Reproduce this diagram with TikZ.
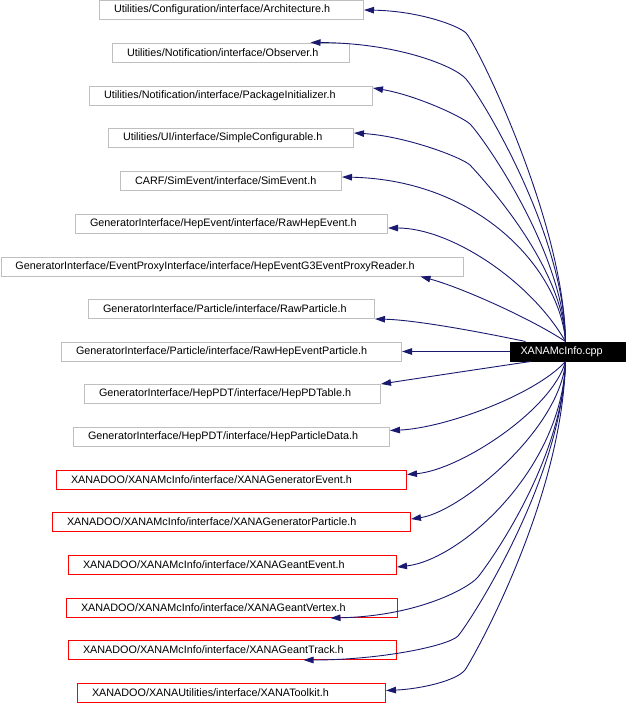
\documentclass[tikz,border=0pt]{standalone}
\usepackage{fontspec}
\setmainfont{Liberation Sans}
\usetikzlibrary{arrows.meta}
\definecolor{inclblue}{RGB}{25, 25, 112}
\definecolor{hdrgrey}{RGB}{191, 191, 191}
\definecolor{hdrred}{RGB}{255, 0, 0}

\begin{document}
\begin{tikzpicture}[x=1pt, y=-1pt,
  hdr/.style={draw=hdrgrey, line width=1pt, anchor=west, minimum height=19pt, inner xsep=14.5pt, inner ysep=0pt, align=left, font=\fontsize{10.8}{13}\selectfont},
  xanahdr/.style={hdr, draw=hdrred},
  srcbox/.style={hdr, draw=black, fill=black, text=white, inner xsep=10pt},
  incl/.style={inclblue, line width=0.9pt, -{Triangle[length=10pt, width=6.5pt]}}]
  \useasboundingbox (0,0) rectangle (626,704);

  % Included headers
  \node[hdr, text width=235pt] (arch) at (99,10) {Utilities/Configuration/interface/Architecture.h};
  \node[hdr, text width=208pt] (observer) at (112,52.5) {Utilities/Notification/interface/Observer.h};
  \node[hdr, text width=254pt] (pkginit) at (89,95.5) {Utilities/Notification/interface/PackageInitializer.h};
  \node[hdr, text width=216pt] (simplecfg) at (108,138) {Utilities/UI/interface/SimpleConfigurable.h};
  \node[hdr, text width=192pt] (simevent) at (120,181) {CARF/SimEvent/interface/SimEvent.h};
  \node[hdr, text width=283pt] (rawhepevent) at (75,224) {GeneratorInterface/HepEvent/interface/RawHepEvent.h};
  \node[hdr, text width=433pt] (proxyreader) at (0.5,266.5) {GeneratorInterface/EventProxyInterface/interface/HepEventG3EventProxyReader.h};
  \node[hdr, text width=257pt] (rawparticle) at (88,309) {GeneratorInterface/Particle/interface/RawParticle.h};
  \node[hdr, text width=311pt] (rawhepparticle) at (61,351.5) {GeneratorInterface/Particle/interface/RawHepEventParticle.h};
  \node[hdr, text width=267pt] (heppdtable) at (84,394) {GeneratorInterface/HepPDT/interface/HepPDTable.h};
  \node[hdr, text width=287pt] (hepparticledata) at (73,436.5) {GeneratorInterface/HepPDT/interface/HepParticleData.h};
  \node[xanahdr, text width=321pt] (xgenevent) at (56,479.5) {XANADOO/XANAMcInfo/interface/XANAGeneratorEvent.h};
  \node[xanahdr, text width=329pt] (xgenparticle) at (52,522) {XANADOO/XANAMcInfo/interface/XANAGeneratorParticle.h};
  \node[xanahdr, text width=299pt] (xgeantevent) at (68,565) {XANADOO/XANAMcInfo/interface/XANAGeantEvent.h};
  \node[xanahdr, text width=302pt] (xgeantvertex) at (66,608) {XANADOO/XANAMcInfo/interface/XANAGeantVertex.h};
  \node[xanahdr, text width=299pt] (xgeanttrack) at (68,650) {XANADOO/XANAMcInfo/interface/XANAGeantTrack.h};
  \node[xanahdr, text width=279pt] (xtoolkit) at (77,692.5) {XANADOO/XANAUtilities/interface/XANAToolkit.h};

  % Source file
  \node[srcbox, text width=95pt] (mcinfo) at (510,351.5) {XANAMcInfo.cpp};

  % Include edges
  \draw[incl] ([xshift=-2.5pt]mcinfo.north) .. controls (564,220) and (476,43) .. (466,33) .. controls (459,26) and (420,11) .. (arch.east);
  \draw[incl] ([xshift=-2.5pt]mcinfo.north) .. controls (564,230) and (479,94) .. (466,79) .. controls (456,67) and (400,43) .. ([xshift=79.5pt]observer.north);
  \draw[incl] ([xshift=-2.5pt]mcinfo.north) .. controls (563,250) and (482,136) .. (470,124) .. controls (461,116) and (415,95) .. ([yshift=7.5pt]pkginit.east);
  \draw[incl] ([xshift=-2.5pt]mcinfo.north) .. controls (563,265) and (482,178) .. (470,165) .. controls (461,157) and (405,136) .. ([yshift=5pt]simplecfg.east);
  \draw[incl] ([xshift=-2.5pt]mcinfo.north) .. controls (560,270) and (480,180) .. ([yshift=4pt]simevent.east);
  \draw[incl] ([xshift=-2.5pt]mcinfo.north) .. controls (530,280) and (450,228) .. ([yshift=-4pt]rawhepevent.east);
  \draw[incl] ([xshift=-2.5pt]mcinfo.north) .. controls (530,318) and (460,287) .. ([xshift=188.5pt]proxyreader.south);
  \draw[incl] ([xshift=-42.5pt]mcinfo.north) .. controls (500,336) and (420,320) .. (rawparticle.south east);
  \draw[incl] (mcinfo.west) -- (rawhepparticle.east);
  \draw[incl] ([xshift=-37.5pt]mcinfo.south) .. controls (500,366) and (420,378) .. (heppdtable.north east);
  \draw[incl] ([xshift=-2.5pt]mcinfo.south) .. controls (535,395) and (445,428) .. ([yshift=6pt]hepparticledata.east);
  \draw[incl] ([xshift=-2.5pt]mcinfo.south) .. controls (552,410) and (460,470) .. ([yshift=5pt]xgenevent.east);
  \draw[incl] ([xshift=-2.5pt]mcinfo.south) .. controls (560,430) and (460,512) .. ([yshift=3pt]xgenparticle.east);
  \draw[incl] ([xshift=-2.5pt]mcinfo.south) .. controls (562,470) and (460,560) .. ([yshift=-2pt]xgeantevent.east);
  \draw[incl] ([xshift=-2.5pt]mcinfo.south) .. controls (563,460) and (490,562) .. (478,577) .. controls (470,587) and (420,616) .. ([xshift=98.5pt]xgeantvertex.south);
  \draw[incl] ([xshift=-2.5pt]mcinfo.south) .. controls (562,480) and (470,622) .. (458,636) .. controls (448,646) and (380,660) .. ([xshift=71pt]xgeanttrack.south);
  \draw[incl] ([xshift=-2.5pt]mcinfo.south) .. controls (562,500) and (475,655) .. (465,670) .. controls (456,681) and (420,689) .. ([yshift=2pt]xtoolkit.east);
\end{tikzpicture}
\end{document}
